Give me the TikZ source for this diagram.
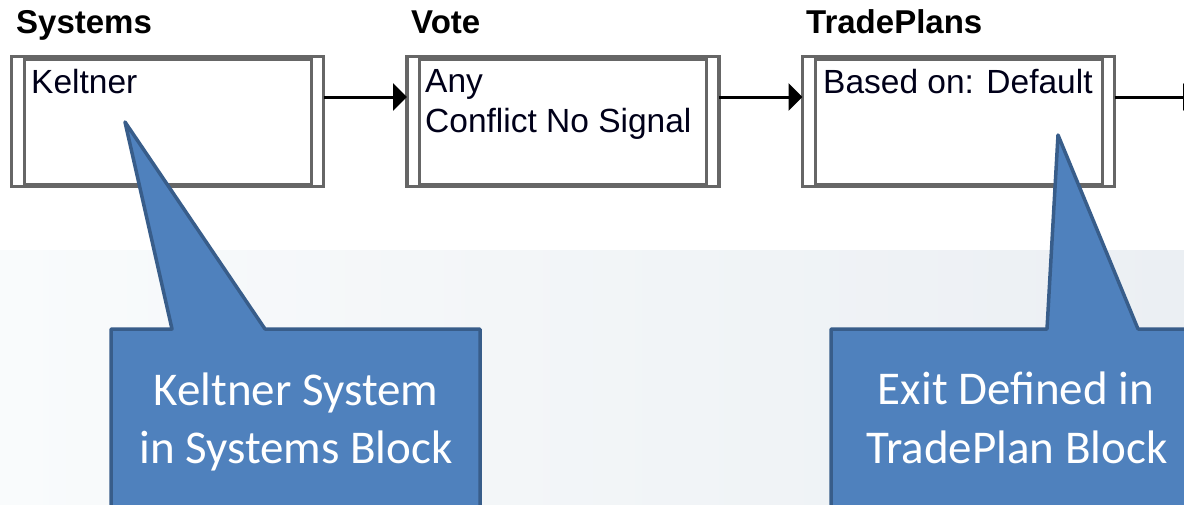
\documentclass[tikz,border=0pt]{standalone}
\usepackage{fontspec}
\setmainfont{Liberation Sans}
\newfontfamily\calfont{Carlito}
\usetikzlibrary{arrows.meta,calc}
\definecolor{framegray}{HTML}{666666}
\definecolor{callfill}{HTML}{4F81BD}
\definecolor{calldraw}{HTML}{385D8A}
\definecolor{bgleft}{HTML}{F9FBFC}
\definecolor{bgright}{HTML}{EBEFF3}
\begin{document}
\begin{tikzpicture}[x=1pt,y=-1pt,
 blockbox/.style={draw=framegray, line width=3.5pt, fill=white, minimum width=312pt, minimum height=130pt, inner sep=0pt, outer sep=0pt},
 innerframe/.style={draw=framegray, line width=3pt},
 blocktitle/.style={font=\fontsize{33}{38}\selectfont\bfseries, anchor=base west, inner sep=0pt},
 blocktext/.style={font=\fontsize{33.5}{40}\selectfont, anchor=base west, inner sep=0pt, text=black!90!blue},
 conn/.style={line width=3pt, -{Triangle[length=14pt,width=27pt]}},
 calloutshape/.style={fill=callfill, draw=calldraw, line width=3.5pt, line join=round},
 callouttext/.style={font=\calfont\fontsize{47}{58}\selectfont, text=white, anchor=base, inner sep=0pt}]
\useasboundingbox (0,0) rectangle (1184,504);
\clip (0,0) rectangle (1184,504);
% background
\fill[left color=bgleft, right color=bgright] (0,250) rectangle (1184,504);
% titles
\node[blocktitle] (tsys) at (16,33) {Systems};
\node[blocktitle] (tvote) at (411,33) {Vote};
\node[blocktitle] (ttp) at (806,33) {TradePlans};
% blocks
\node[blockbox] (sys) at (167.5,121.5) {};
\node[blockbox] (vote) at (563,121.5) {};
\node[blockbox] (tp) at (958.5,121.5) {};
\foreach \b in {sys,vote,tp}{
  \draw[innerframe] ($(\b.north west)+(12.5,2.5)$) rectangle ($(\b.south east)+(-12.5,-2.5)$);
}
% block texts
\node[blocktext] (sysx) at (31,93) {Keltner};
\node[blocktext] (votex1) at (425,92) {Any};
\node[blocktext] (votex2) at (425,132) {Conflict No Signal};
\node[blocktext] (tpx) at (823,93) {Based on: Default};
% connectors
\coordinate (s1) at ($(sys.east)+(0,-24.5)$);
\coordinate (v1) at ($(vote.west)+(0,-24.5)$);
\coordinate (v2) at ($(vote.east)+(0,-24.5)$);
\coordinate (t1) at ($(tp.west)+(0,-24.5)$);
\coordinate (t2) at ($(tp.east)+(0,-24.5)$);
\coordinate (outend) at (1197,97);
\draw[conn] (s1) -- (v1);
\draw[conn] (v2) -- (t1);
\draw[conn] (t2) -- (outend);
% callouts
\draw[calloutshape] (111,329) -- (172,329) -- (125,122) -- (265,329) -- (480,329) -- (480,530) -- (111,530) -- cycle;
\draw[calloutshape] (831,329) -- (1047,329) -- (1058,135) -- (1138,329) -- (1210,329) -- (1210,530) -- (831,530) -- cycle;
\node[callouttext] (c1a) at (296,405) {Keltner System};
\node[callouttext] (c1b) at (296,463) {in Systems Block};
\node[callouttext] (c2a) at (1016,404) {Exit Defined in};
\node[callouttext] (c2b) at (1017,463) {TradePlan Block};
\end{tikzpicture}
\end{document}
